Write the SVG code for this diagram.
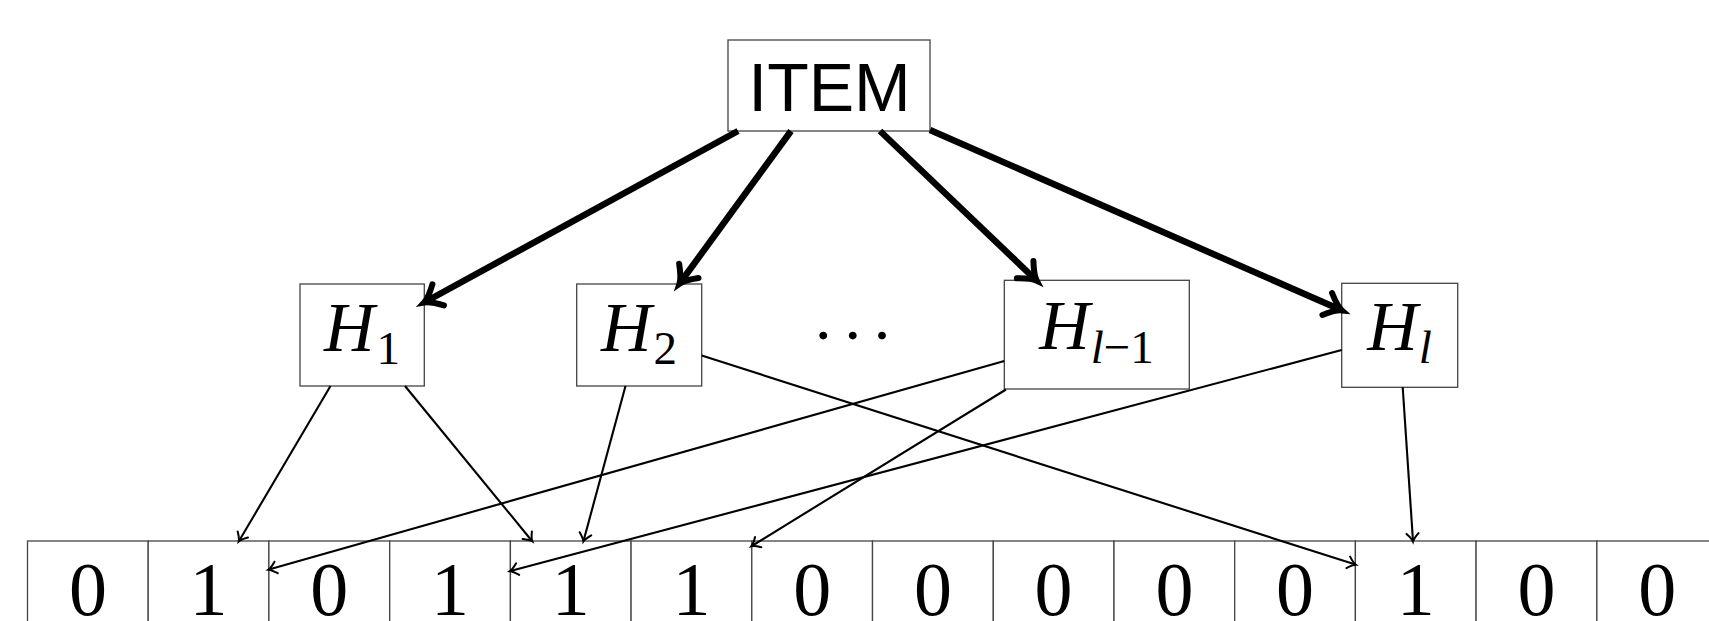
<svg xmlns="http://www.w3.org/2000/svg" width="1709" height="621" viewBox="0 0 1709 621">
<style>
.box{fill:#fff;stroke:#444;stroke-width:1.3}
.cell{fill:#fff;stroke:#444;stroke-width:1.3}
.lbl{font-family:"Liberation Serif","DejaVu Serif",serif;font-style:italic;font-size:70px;fill:#000}
.sub{font-size:47px}
.up{font-style:normal}
.dig{font-family:"Liberation Serif","DejaVu Serif",serif;font-size:76px;fill:#000;text-anchor:middle}
.item{font-family:"Liberation Sans",Arial,sans-serif;font-size:68px;fill:#000;text-anchor:middle}
.thick{stroke:#000;stroke-width:6.5;fill:none;marker-end:url(#headThick)}
.thin{stroke:#000;stroke-width:2.1;fill:none;marker-end:url(#headThin)}
</style>
<defs>
<marker id="headThick" markerUnits="userSpaceOnUse" orient="auto" refX="0" refY="0" markerWidth="40" markerHeight="40" viewBox="-20 -20 40 40" overflow="visible">
<path d="M -15,-12 Q -5,-2 1,0 Q -5,2 -15,12" fill="none" stroke="#000" stroke-width="6" stroke-linecap="round"/>
</marker>
<marker id="headThin" markerUnits="userSpaceOnUse" orient="auto" refX="0" refY="0" markerWidth="20" markerHeight="20" viewBox="-10 -10 20 20" overflow="visible">
<path d="M -7.5,-6 Q -2.5,-1 0.5,0 Q -2.5,1 -7.5,6" fill="none" stroke="#000" stroke-width="2" stroke-linecap="round"/>
</marker>
</defs>

<g id="cells">
<rect class="cell" x="27.5" y="541" width="120.7" height="100"/>
<rect class="cell" x="148.2" y="541" width="120.7" height="100"/>
<rect class="cell" x="268.9" y="541" width="120.8" height="100"/>
<rect class="cell" x="389.7" y="541" width="120.7" height="100"/>
<rect class="cell" x="510.4" y="541" width="120.7" height="100"/>
<rect class="cell" x="631.1" y="541" width="120.7" height="100"/>
<rect class="cell" x="751.8" y="541" width="120.7" height="100"/>
<rect class="cell" x="872.5" y="541" width="120.8" height="100"/>
<rect class="cell" x="993.3" y="541" width="120.7" height="100"/>
<rect class="cell" x="1114" y="541" width="120.7" height="100"/>
<rect class="cell" x="1234.7" y="541" width="120.7" height="100"/>
<rect class="cell" x="1355.4" y="541" width="120.7" height="100"/>
<rect class="cell" x="1476.1" y="541" width="120.8" height="100"/>
<rect class="cell" x="1596.9" y="541" width="120.7" height="100"/>
<text class="dig" x="87.9" y="615">0</text>
<text class="dig" x="208.5" y="615">1</text>
<text class="dig" x="329.3" y="615">0</text>
<text class="dig" x="450" y="615">1</text>
<text class="dig" x="570.8" y="615">1</text>
<text class="dig" x="691.5" y="615">1</text>
<text class="dig" x="812.2" y="615">0</text>
<text class="dig" x="932.9" y="615">0</text>
<text class="dig" x="1053.6" y="615">0</text>
<text class="dig" x="1174.4" y="615">0</text>
<text class="dig" x="1295" y="615">0</text>
<text class="dig" x="1415.8" y="615">1</text>
<text class="dig" x="1536.5" y="615">0</text>
<text class="dig" x="1657.2" y="615">0</text>
</g>

<g id="item">
<rect class="box" x="728" y="40" width="202" height="91"/>
<text class="item" x="829.5" y="110.5">ITEM</text>
</g>

<g id="h1">
<rect class="box" x="300" y="284" width="124.3" height="102"/>
<text class="lbl" x="362" y="351" text-anchor="middle">H<tspan class="sub up" dx="2" dy="13">1</tspan></text>
</g>

<g id="h2">
<rect class="box" x="576.7" y="284" width="125" height="102"/>
<text class="lbl" x="639" y="351" text-anchor="middle">H<tspan class="sub up" dx="2" dy="13">2</tspan></text>
</g>

<g id="dots">
<text x="823.3 852.7 882" y="339" font-family="Liberation Serif, DejaVu Serif, serif" font-size="66" text-anchor="middle">...</text>
</g>

<g id="hl1">
<rect class="box" x="1004.3" y="280.3" width="185" height="108.7"/>
<text class="lbl" x="1096.5" y="348.5" text-anchor="middle">H<tspan class="sub" dx="1" dy="14.5">l</tspan><tspan class="sub up">−1</tspan></text>
</g>

<g id="hl">
<rect class="box" x="1341.7" y="283.3" width="116" height="104"/>
<text class="lbl" x="1399.5" y="350" text-anchor="middle">H<tspan class="sub" dx="1" dy="13">l</tspan></text>
</g>

<g id="connectors">
<line class="thick" x1="738" y1="131" x2="425" y2="302"/>
<line class="thick" x1="791" y1="131" x2="680" y2="283"/>
<line class="thick" x1="880" y1="131" x2="1036" y2="280"/>
<line class="thick" x1="930" y1="130" x2="1341" y2="310"/>

<line class="thin" x1="330.5" y1="386" x2="239" y2="541"/>
<line class="thin" x1="405" y1="386" x2="532" y2="541"/>
<line class="thin" x1="625.5" y1="386" x2="583.5" y2="541"/>
<line class="thin" x1="701.7" y1="355.5" x2="1355.4" y2="564.6"/>
<line class="thin" x1="1004.3" y1="361" x2="268.9" y2="569.5"/>
<line class="thin" x1="1006" y1="389.5" x2="751.8" y2="546"/>
<line class="thin" x1="1341.7" y1="350" x2="510.4" y2="571"/>
<line class="thin" x1="1402.7" y1="387.3" x2="1413" y2="541"/>
</g>
</svg>
